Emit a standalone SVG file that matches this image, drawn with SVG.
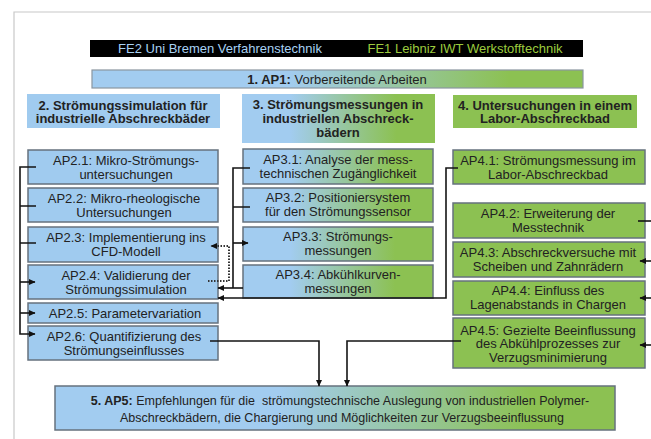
<svg xmlns="http://www.w3.org/2000/svg" width="651" height="439" viewBox="0 0 651 439">
<defs>
<style>
.box{stroke:#66727e;stroke-width:1.5}
.blue{fill:#a0cbef}
.green{fill:#8cc152}
.grad{fill:url(#g3)}
.t{font-family:"Liberation Sans",Arial,sans-serif;font-size:13px;fill:#222;text-anchor:middle}
.b{font-weight:bold}
.conn{stroke:#151515;stroke-width:1.6;fill:none}
.dot{stroke:#333;stroke-width:2;stroke-dasharray:1.5 1.5;fill:none}
</style>
<linearGradient id="g3" x1="0" y1="0" x2="1" y2="0">
<stop offset="0" stop-color="#a2ccf0"/><stop offset="0.25" stop-color="#a2ccf0"/><stop offset="0.8" stop-color="#8cc152"/><stop offset="1" stop-color="#8cc152"/>
</linearGradient>
<linearGradient id="g1" x1="0" y1="0" x2="1" y2="0">
<stop offset="0" stop-color="#a2ccf0"/><stop offset="0.4" stop-color="#a2ccf0"/><stop offset="0.85" stop-color="#8cc152"/><stop offset="1" stop-color="#8cc152"/>
</linearGradient>
<marker id="ah" markerWidth="7" markerHeight="6" refX="6" refY="3" orient="auto" markerUnits="userSpaceOnUse"><path d="M0,0 L6.5,3 L0,6 z" fill="#111"/></marker>
</defs>
<rect width="651" height="439" fill="#fff"/>
<path d="M14,439 V12 H651" stroke="#c8c8c8" stroke-width="1.2" fill="none"/>

<g id="header">
<rect x="90" y="40" width="493" height="17" fill="#000"/>
<text class="t" x="220" y="53" style="fill:#a8d2f3">FE2 Uni Bremen Verfahrenstechnik</text>
<text class="t" x="465" y="53" style="fill:#9ccb3e">FE1 Leibniz IWT Werkstofftechnik</text>
</g>

<g id="ap1">
<rect x="92" y="70" width="491" height="18" fill="url(#g1)" stroke="#8a96a0" stroke-width="1.2"/>
<text class="t" x="337" y="83.5"><tspan class="b">1. AP1:</tspan> Vorbereitende Arbeiten</text>
</g>

<g id="h2">
<rect x="27" y="94" width="193" height="34" class="blue"/>
<text class="t b" x="123" y="109.5">2. Strömungssimulation für</text>
<text class="t b" x="123" y="123">industrielle Abschreckbäder</text>
</g>
<g id="h3">
<rect x="242" y="94" width="193" height="49" class="grad"/>
<text class="t b" x="338" y="108.5">3. Strömungsmessungen in</text>
<text class="t b" x="338" y="122.5">industriellen Abschreck-</text>
<text class="t b" x="338" y="136.5">bädern</text>
</g>
<g id="h4">
<rect x="453" y="95" width="184" height="33" class="green"/>
<text class="t b" x="545" y="109.5">4. Untersuchungen in einem</text>
<text class="t b" x="545" y="123">Labor-Abschreckbad</text>
</g>

<g id="ap2_1"><rect x="28" y="150" width="190" height="34" class="box blue"/>
<text class="t" x="126" y="164.5">AP2.1: Mikro-Strömungs-</text><text class="t" x="126" y="178.5">untersuchungen</text></g>
<g id="ap2_2"><rect x="28" y="188" width="190" height="34" class="box blue"/>
<text class="t" x="124" y="202.5">AP2.2: Mikro-rheologische</text><text class="t" x="124" y="216.5">Untersuchungen</text></g>
<g id="ap2_3"><rect x="28" y="227" width="190" height="35" class="box blue"/>
<text class="t" x="126" y="241.5">AP2.3: Implementierung ins</text><text class="t" x="126" y="255.5">CFD-Modell</text></g>
<g id="ap2_4"><rect x="28" y="265" width="190" height="34" class="box blue"/>
<text class="t" x="126" y="279.5">AP2.4: Validierung der</text><text class="t" x="126" y="293.5">Strömungssimulation</text></g>
<g id="ap2_5"><rect x="28" y="303" width="190" height="20" class="box blue"/>
<text class="t" x="125" y="317.5">AP2.5: Parametervariation</text></g>
<g id="ap2_6"><rect x="28" y="326" width="190" height="34" class="box blue"/>
<text class="t" x="124" y="340.5">AP2.6: Quantifizierung des</text><text class="t" x="124" y="354.5">Strömungseinflusses</text></g>

<g id="ap3_1"><rect x="243" y="149" width="190" height="35" class="box grad"/>
<text class="t" x="338" y="163.5">AP3.1: Analyse der mess-</text><text class="t" x="338" y="177.5">technischen Zugänglichkeit</text></g>
<g id="ap3_2"><rect x="243" y="188" width="190" height="34" class="box grad"/>
<text class="t" x="338" y="202">AP3.2: Positioniersystem</text><text class="t" x="338" y="216">für den Strömungssensor</text></g>
<g id="ap3_3"><rect x="243" y="227" width="190" height="34" class="box grad"/>
<text class="t" x="338" y="241">AP3.3: Strömungs-</text><text class="t" x="338" y="255">messungen</text></g>
<g id="ap3_4"><rect x="243" y="265" width="190" height="33" class="box grad"/>
<text class="t" x="338" y="279">AP3.4: Abkühlkurven-</text><text class="t" x="338" y="293">messungen</text></g>

<g id="ap4_1"><rect x="453" y="150" width="192" height="34" class="box green"/>
<text class="t" x="548" y="164.5">AP4.1: Strömungsmessung im</text><text class="t" x="548" y="178.5">Labor-Abschreckbad</text></g>
<g id="ap4_2"><rect x="453" y="203" width="192" height="35" class="box green"/>
<text class="t" x="548" y="217.5">AP4.2: Erweiterung der</text><text class="t" x="548" y="231.5">Messtechnik</text></g>
<g id="ap4_3"><rect x="453" y="242" width="192" height="35" class="box green"/>
<text class="t" x="548" y="256.5">AP4.3: Abschreckversuche mit</text><text class="t" x="548" y="270.5">Scheiben und Zahnrädern</text></g>
<g id="ap4_4"><rect x="453" y="281" width="192" height="34" class="box green"/>
<text class="t" x="548" y="295">AP4.4: Einfluss des</text><text class="t" x="548" y="309">Lagenabstands in Chargen</text></g>
<g id="ap4_5"><rect x="453" y="318" width="192" height="50" class="box green"/>
<text class="t" x="548" y="334.5">AP4.5: Gezielte Beeinflussung</text><text class="t" x="548" y="348">des Abkühlprozesses zur</text><text class="t" x="548" y="361.5">Verzugsminimierung</text></g>

<g id="ap5"><rect x="55" y="386" width="560" height="44" fill="url(#g1)" stroke="#66727e" stroke-width="1.5"/>
<text class="t" x="340" y="404.5" style="font-size:12.5px;white-space:pre"><tspan class="b">5. AP5:</tspan> Empfehlungen für die  strömungstechnische Auslegung von industriellen Polymer-</text>
<text class="t" x="342" y="421.5" style="font-size:12.5px">Abschreckbädern, die Chargierung und Möglichkeiten zur Verzugsbeeinflussung</text></g>

<g id="connectors">
<path class="conn" d="M36,167 H20 V334 H35" marker-end="url(#ah)"/>
<path class="conn" d="M20,206 H36 M20,243 H36"/>
<path class="conn" d="M20,282 H35" marker-end="url(#ah)"/>
<path class="conn" d="M20,313 H35" marker-end="url(#ah)"/>
<path class="conn" d="M250,168 H233 V288 M233,207 H250"/>
<path class="conn" d="M233,243 H248" marker-end="url(#ah)"/>
<path class="conn" d="M243,288 H218" marker-end="url(#ah)"/>
<path class="conn" d="M458,168 H446 V298 H218" marker-end="url(#ah)"/>
<path class="dot" d="M208,281 H229 V246 H211" marker-end="url(#ah)"/>
<path class="conn" d="M210,341 H319 V386" marker-end="url(#ah)"/>
<path class="conn" d="M461,341 H347 V386" marker-end="url(#ah)"/>
<path class="conn" d="M651,221 H638"/>
<path class="conn" d="M651,261 H640" marker-end="url(#ah)"/>
<path class="conn" d="M651,298 H640" marker-end="url(#ah)"/>
<path class="conn" d="M651,345 H640" marker-end="url(#ah)"/>
</g>
</svg>
